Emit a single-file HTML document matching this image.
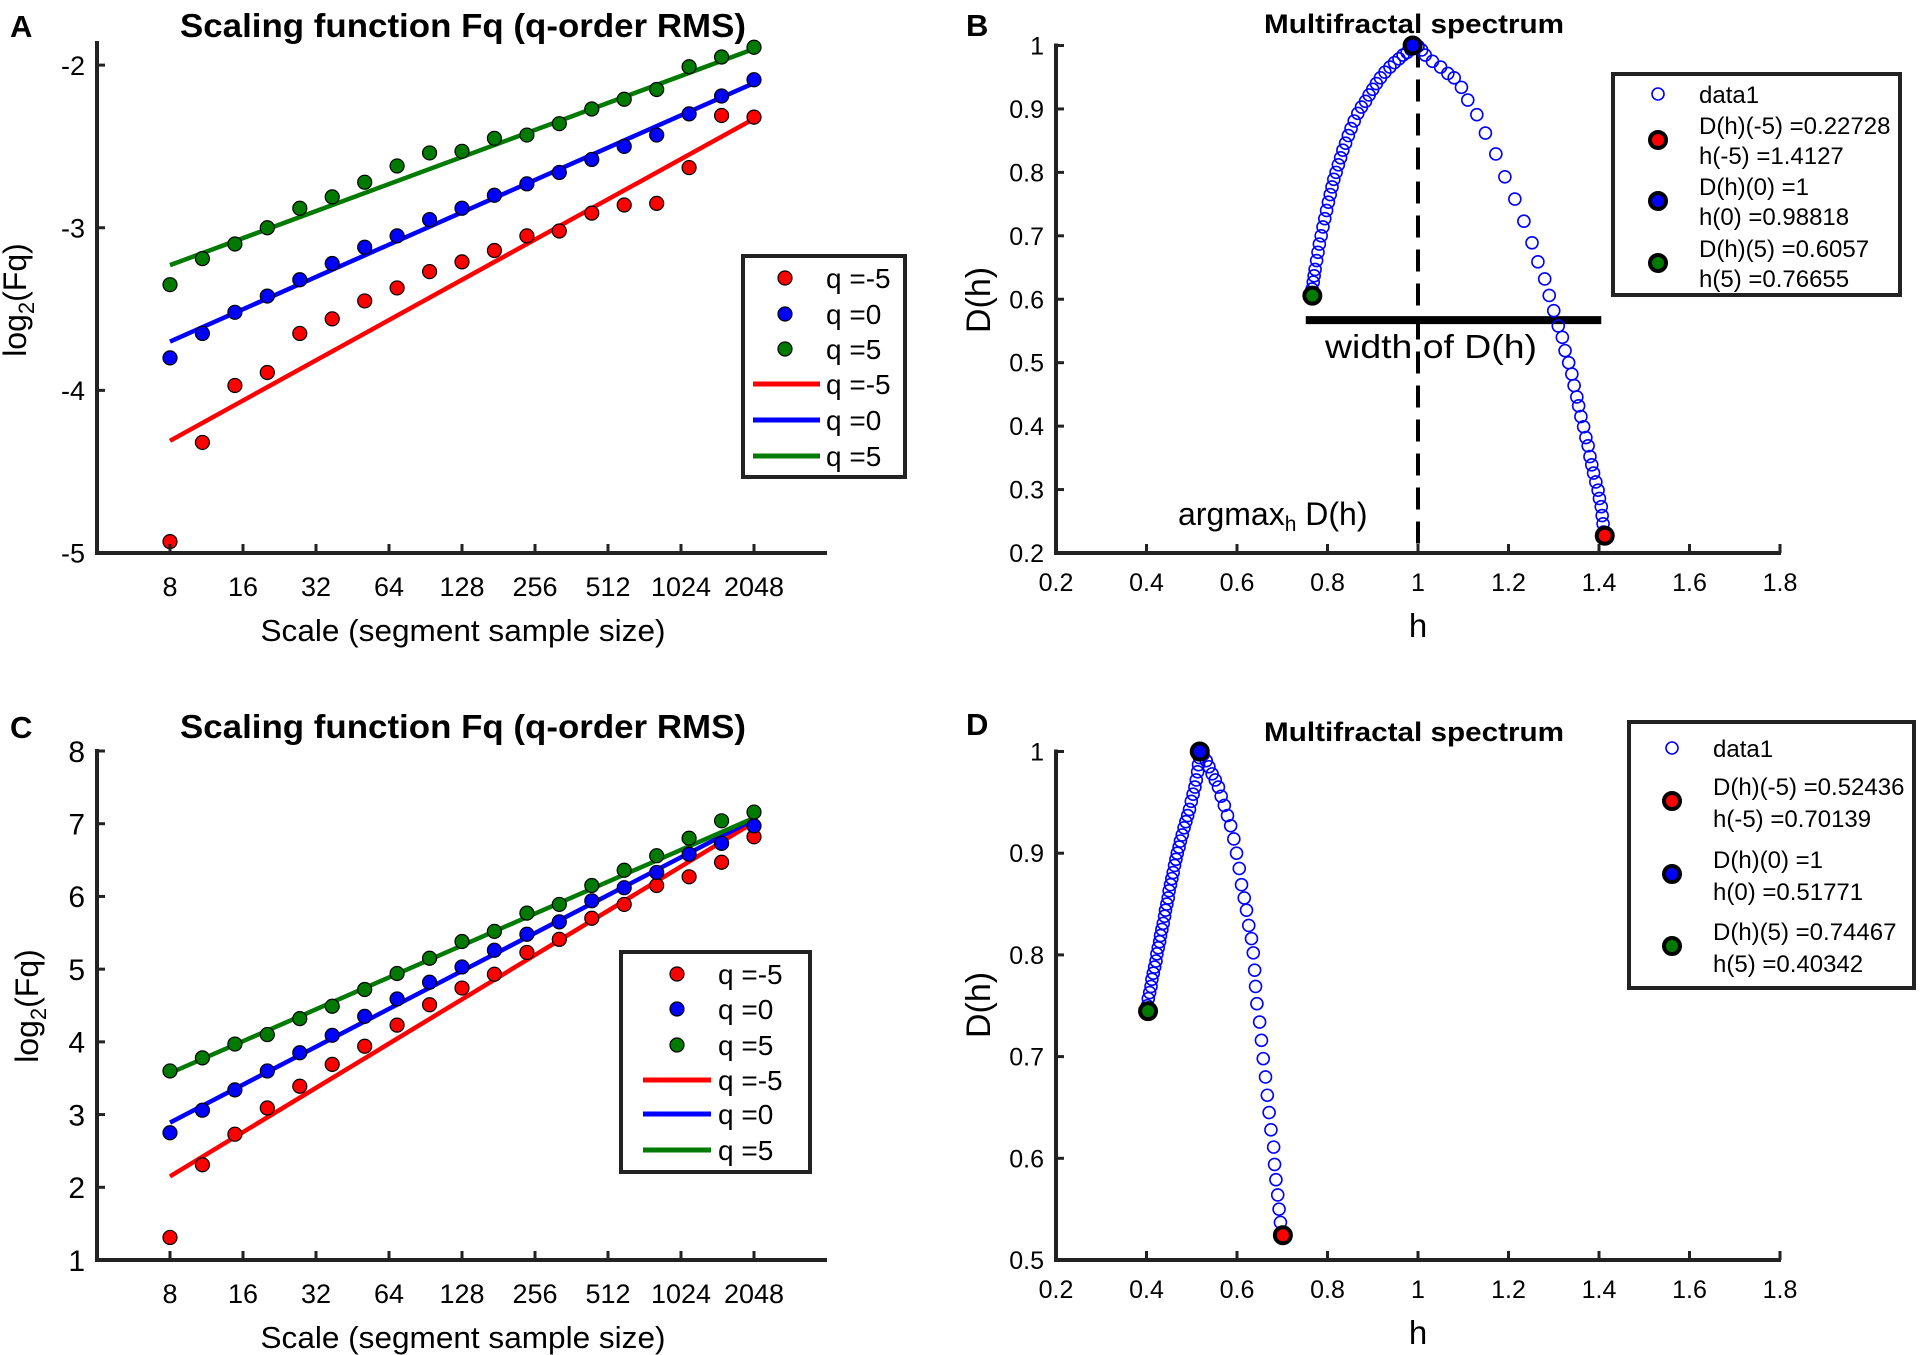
<!DOCTYPE html>
<html><head><meta charset="utf-8"><title>MFDFA figure</title>
<style>
html,body{margin:0;padding:0;background:#fff;}
svg{display:block;font-family:"Liberation Sans",Arial,sans-serif;}
</style></head>
<body>
<svg id="fig" width="1925" height="1355" viewBox="0 0 1925 1355" xmlns="http://www.w3.org/2000/svg"></svg>
<script>
// ---------- Data: panel A (scaling function) ----------
const scaleTickLabels = ["8","16","32","64","128","256","512","1024","2048"];
const scaleLog2 = [3,3.444,3.889,4.333,4.778,5.222,5.667,6.111,6.556,7,7.444,7.889,8.333,8.778,9.222,9.667,10.111,10.556,11];
const aRed   = [-4.93,-4.32,-3.97,-3.89,-3.65,-3.56,-3.45,-3.37,-3.27,-3.21,-3.14,-3.05,-3.02,-2.91,-2.86,-2.85,-2.63,-2.31,-2.32];
const aBlue  = [-3.80,-3.65,-3.52,-3.42,-3.32,-3.22,-3.12,-3.05,-2.95,-2.88,-2.80,-2.73,-2.66,-2.58,-2.50,-2.43,-2.30,-2.19,-2.09];
const aGreen = [-3.35,-3.19,-3.10,-3.00,-2.88,-2.81,-2.72,-2.62,-2.54,-2.53,-2.45,-2.43,-2.36,-2.27,-2.21,-2.15,-2.01,-1.95,-1.89];
const aFitStart = [-4.31,-3.70,-3.23];
const aFitEnd   = [-2.33,-2.11,-1.90];
const aYTicks = [-5,-4,-3,-2];
// ---------- Data: panel C ----------
const cRed   = [1.31,2.31,2.73,3.09,3.39,3.69,3.94,4.23,4.51,4.74,4.93,5.23,5.41,5.70,5.89,6.15,6.27,6.47,6.82];
const cBlue  = [2.75,3.06,3.34,3.60,3.85,4.09,4.35,4.59,4.82,5.03,5.26,5.48,5.65,5.94,6.12,6.33,6.58,6.73,6.97];
const cGreen = [3.60,3.78,3.97,4.10,4.32,4.49,4.72,4.94,5.15,5.38,5.52,5.77,5.89,6.15,6.36,6.56,6.80,7.04,7.16];
const cFitStart = [2.15,2.89,3.57];
const cFitEnd   = [7.02,7.06,7.08];
const cYTicks = [1,2,3,4,5,6,7,8];
const qLabels = ["q =-5","q =0","q =5"];
// ---------- Data: panel B (spectrum) ----------
const bH = [0.7645,0.766,0.7685,0.7705,0.7726,0.776,0.779,0.782,0.786,0.790,0.794,0.798,0.802,0.806,0.810,0.814,0.819,0.824,0.829,0.834,0.840,0.846,0.852,0.859,0.867,0.875,0.884,0.892,0.900,0.908,0.917,0.927,0.938,0.948,0.958,0.967,0.976,0.984,0.992,1.000,1.008,1.016,1.032,1.050,1.066,1.080,1.096,1.110,1.130,1.149,1.172,1.192,1.214,1.234,1.252,1.265,1.280,1.290,1.300,1.310,1.319,1.325,1.333,1.340,1.345,1.351,1.355,1.360,1.366,1.371,1.376,1.380,1.384,1.388,1.393,1.398,1.401,1.405,1.407,1.409,1.410];
const bD = [0.604,0.616,0.627,0.637,0.647,0.661,0.674,0.687,0.700,0.714,0.727,0.740,0.753,0.765,0.777,0.789,0.800,0.812,0.823,0.835,0.846,0.858,0.869,0.881,0.893,0.903,0.912,0.922,0.931,0.940,0.949,0.958,0.966,0.973,0.979,0.985,0.989,0.994,0.997,0.999,0.993,0.985,0.975,0.966,0.956,0.949,0.934,0.914,0.891,0.862,0.829,0.793,0.758,0.723,0.689,0.659,0.632,0.606,0.582,0.558,0.540,0.519,0.500,0.482,0.464,0.446,0.432,0.415,0.399,0.382,0.369,0.352,0.339,0.326,0.312,0.299,0.286,0.273,0.259,0.246,0.233];
const bKeyH = [1.4127,0.98818,0.76655];
const bKeyD = [0.22728,1,0.6057];
const bLegend = [["D(h)(-5) =0.22728","h(-5) =1.4127"],["D(h)(0) =1","h(0) =0.98818"],["D(h)(5) =0.6057","h(5) =0.76655"]];
const bWidthBar = [0.752,1.405,0.567];
const bYTicks = [0.2,0.3,0.4,0.5,0.6,0.7,0.8,0.9,1];
// ---------- Data: panel D ----------
const dH = [0.4003,0.402,0.404,0.407,0.410,0.412,0.415,0.418,0.421,0.423,0.426,0.429,0.431,0.434,0.437,0.440,0.442,0.445,0.448,0.450,0.453,0.456,0.459,0.462,0.465,0.468,0.472,0.475,0.479,0.483,0.487,0.491,0.495,0.499,0.503,0.507,0.510,0.513,0.515,0.517,0.525,0.532,0.538,0.545,0.552,0.559,0.565,0.572,0.579,0.586,0.593,0.599,0.605,0.610,0.616,0.621,0.626,0.632,0.636,0.639,0.641,0.644,0.650,0.654,0.658,0.663,0.667,0.671,0.675,0.681,0.683,0.686,0.690,0.693,0.696,0.698];
const dD = [0.7436,0.750,0.757,0.763,0.769,0.776,0.782,0.788,0.794,0.801,0.807,0.813,0.819,0.825,0.831,0.838,0.844,0.850,0.856,0.863,0.869,0.875,0.881,0.888,0.894,0.900,0.906,0.912,0.918,0.925,0.931,0.937,0.943,0.951,0.958,0.965,0.972,0.980,0.987,0.994,0.997,0.991,0.985,0.978,0.972,0.965,0.956,0.947,0.937,0.927,0.914,0.900,0.885,0.869,0.856,0.844,0.829,0.816,0.802,0.785,0.769,0.752,0.734,0.716,0.698,0.680,0.662,0.645,0.628,0.611,0.594,0.579,0.564,0.550,0.537,0.527];
const dKeyH = [0.70139,0.51771,0.40342];
const dKeyD = [0.52436,1,0.74467];
const dLegend = [["D(h)(-5) =0.52436","h(-5) =0.70139"],["D(h)(0) =1","h(0) =0.51771"],["D(h)(5) =0.74467","h(5) =0.40342"]];
const dYTicks = [0.5,0.6,0.7,0.8,0.9,1];
const hTicks = [0.2,0.4,0.6,0.8,1,1.2,1.4,1.6,1.8];
const colors = ["#ff0000","#0000ff","#007a00"];

const NS = "http://www.w3.org/2000/svg";
const svg = document.getElementById('fig');
function mk(tag, attrs, parent){
  const e = document.createElementNS(NS, tag);
  for (const k in attrs) e.setAttribute(k, attrs[k]);
  (parent||svg).appendChild(e);
  return e;
}
function txt(s, attrs, parent){ const e = mk('text', attrs, parent); e.textContent = s; return e; }
function lin(d0,d1,p0,p1){ return v => p0 + (v-d0)/(d1-d0)*(p1-p0); }

// ---------- Scaling panels ----------
function scalingPanel(o){
  const g = mk('g', {});
  
  
  const X = lin(2,12,o.x0,o.x1), Y = lin(o.ymin,o.ymax,o.y0,o.yTop);
  const pl = txt(o.letter, {x:o.letterX, y:o.titleY, 'font-size':31, 'font-weight':'bold'}, g);
  
  
  const t = txt("Scaling function Fq (q-order RMS)", {x:463, y:o.titleY, 'font-size':33, 'font-weight':'bold', 'text-anchor':'middle', textLength:566, lengthAdjust:'spacingAndGlyphs'}, g);
  
  
  for (let s=0;s<3;s++){
    const l = mk('line', {x1:X(scaleLog2[0]), y1:Y(o.fitStart[s]), x2:X(scaleLog2[scaleLog2.length-1]), y2:Y(o.fitEnd[s]), stroke:colors[s], 'stroke-width':4.5}, g);
    
    
  }
  const series=[o.red,o.blue,o.green];
  for (let s=0;s<3;s++){
    for (let i=0;i<scaleLog2.length;i++){
      const c = mk('circle', {cx:X(scaleLog2[i]), cy:Y(series[s][i]), r:7, fill:colors[s], stroke:'#000', 'stroke-width':1.2}, g);
      
      
    }
  }
  const ya = mk('line', {x1:o.x0, y1:o.y0+2, x2:o.x0, y2:o.yTop-2, stroke:'#222', 'stroke-width':4}, g);
  
  
  const xa = mk('line', {x1:o.x0-2, y1:o.y0, x2:o.x1, y2:o.y0, stroke:'#222', 'stroke-width':4}, g);
  
  
  for (let i=0;i<scaleTickLabels.length;i++){
    const xv = X(3+i);
    mk('line', {x1:xv, y1:o.y0, x2:xv, y2:o.y0-9, stroke:'#222', 'stroke-width':3}, g);
    const tl = txt(scaleTickLabels[i], {x:xv, y:o.y0+43, 'font-size':27, 'text-anchor':'middle'}, g);
    
    
  }
  for (const v of o.yTicks){
    const yv = Y(v);
    mk('line', {x1:o.x0, y1:yv, x2:o.x0+8, y2:yv, stroke:'#222', 'stroke-width':3}, g);
    const tl = txt(String(v), {x:o.x0-12, y:yv+o.yFont*0.36, 'font-size':o.yFont, 'text-anchor':'end'}, g);
    
    
  }
  const xl = txt("Scale (segment sample size)", {x:463, y:o.y0+88, 'font-size':31, 'text-anchor':'middle', textLength:405, lengthAdjust:'spacingAndGlyphs'}, g);
  
  
  const yl = mk('text', {transform:`translate(${o.ylabX},${o.ylabY}) rotate(-90)`, 'font-size':o.ylabFont, 'text-anchor':'middle'}, g);
  yl.innerHTML = 'log<tspan font-size="'+Math.round(o.ylabFont*0.7)+'" dy="8">2</tspan><tspan dy="-8">(Fq)</tspan>';
  
  
  const L = o.leg;
  const lb = mk('rect', {x:L.x, y:L.y, width:L.w, height:L.h, fill:'#fff', stroke:'#222', 'stroke-width':4}, g);
  
  
  for (let k=0;k<6;k++){
    const ry = L.rows[k], s = k%3;
    if (k<3){
      mk('circle', {cx:L.mx, cy:ry, r:7, fill:colors[s], stroke:'#000', 'stroke-width':1.2}, g);
    } else {
      mk('line', {x1:L.lx0, y1:ry, x2:L.lx1, y2:ry, stroke:colors[s], 'stroke-width':5}, g);
    }
    const le = txt(qLabels[s], {x:L.tx, y:ry+10, 'font-size':28}, g);
    
    
  }
}

scalingPanel({name:'panel-a', letter:'A', letterX:10, titleY:37, x0:97, x1:827, y0:553, yTop:43, ymin:-5, ymax:-1.864,
  red:aRed, blue:aBlue, green:aGreen, fitStart:aFitStart, fitEnd:aFitEnd, yTicks:aYTicks, yFont:27,
  ylabX:26, ylabY:300, ylabFont:32,
  leg:{x:743, y:256, w:162, h:221, rows:[278,314,349,384,420,456], mx:785, lx0:753, lx1:820, tx:826}});
scalingPanel({name:'panel-c', letter:'C', letterX:10, titleY:738, x0:97, x1:827, y0:1260, yTop:751, ymin:1, ymax:8,
  red:cRed, blue:cBlue, green:cGreen, fitStart:cFitStart, fitEnd:cFitEnd, yTicks:cYTicks, yFont:30,
  ylabX:38, ylabY:1006, ylabFont:32,
  leg:{x:621, y:952, w:189, h:220, rows:[974,1009,1045,1080,1114,1150], mx:677, lx0:643, lx1:711, tx:718}});

// ---------- Spectrum panels ----------
function spectrumPanel(o){
  const g = mk('g', {});
  
  
  const X = lin(0.2,1.8,1056,1780), Y = lin(o.ymin,1,o.y0,o.yTop);
  const pl = txt(o.letter, {x:966, y:o.letterY, 'font-size':31, 'font-weight':'bold'}, g);
  
  
  const t = txt("Multifractal spectrum", {x:1414, y:o.titleY, 'font-size':27, 'font-weight':'bold', 'text-anchor':'middle', textLength:300, lengthAdjust:'spacingAndGlyphs'}, g);
  
  
  if (o.annot){
    const dl = mk('line', {x1:X(1), y1:Y(1), x2:X(1), y2:o.y0, stroke:'#000', 'stroke-width':4, 'stroke-dasharray':'22 12'}, g);
    
    
    const wb = mk('line', {x1:X(bWidthBar[0]), y1:Y(bWidthBar[2]), x2:X(bWidthBar[1]), y2:Y(bWidthBar[2]), stroke:'#000', 'stroke-width':8}, g);
    
    
  }
  for (let i=0;i<o.h.length;i++){
    const c = mk('circle', {cx:X(o.h[i]), cy:Y(o.d[i]), r:6, fill:'none', stroke:'#0000ff', 'stroke-width':1.6}, g);
    
    
  }
  for (let s=0;s<3;s++){
    const c = mk('circle', {cx:X(o.kh[s]), cy:Y(o.kd[s]), r:8, fill:colors[s], stroke:'#000', 'stroke-width':4}, g);
    
    
  }
  if (o.annot){
    const w1 = txt("width of D(h)", {x:1325, y:358, 'font-size':33, textLength:212, lengthAdjust:'spacingAndGlyphs'}, g);
    
    
    const w2 = mk('text', {x:1178, y:525, 'font-size':32}, g);
    w2.innerHTML = 'argmax<tspan font-size="21" dy="6">h</tspan><tspan dy="-6"> D(h)</tspan>';
    
    
  }
  const ya = mk('line', {x1:1056, y1:o.y0+2, x2:1056, y2:o.yTop-2, stroke:'#222', 'stroke-width':4}, g);
  
  
  const xa = mk('line', {x1:1054, y1:o.y0, x2:1781, y2:o.y0, stroke:'#222', 'stroke-width':4}, g);
  
  
  for (const v of hTicks){
    const xv = X(v);
    mk('line', {x1:xv, y1:o.y0, x2:xv, y2:o.y0-9, stroke:'#222', 'stroke-width':3}, g);
    const tl = txt(String(v), {x:xv, y:o.y0+38, 'font-size':25, 'text-anchor':'middle'}, g);
    
    
  }
  for (const v of o.yTicks){
    const yv = Y(v);
    mk('line', {x1:1056, y1:yv, x2:1064, y2:yv, stroke:'#222', 'stroke-width':3}, g);
    const tl = txt(String(v), {x:1044, y:yv+9, 'font-size':25, 'text-anchor':'end'}, g);
    
    
  }
  const xl = txt("h", {x:1418, y:o.y0+84, 'font-size':33, 'text-anchor':'middle'}, g);
  
  
  const yl = txt("D(h)", {transform:`translate(${o.ylabX},${o.ylabY}) rotate(-90)`, 'font-size':34, 'text-anchor':'middle'}, g);
  
  
  const L = o.leg;
  const lb = mk('rect', {x:L.x, y:L.y, width:L.w, height:L.h, fill:'#fff', stroke:'#222', 'stroke-width':4}, g);
  
  
  mk('circle', {cx:L.mx, cy:L.dataY, r:6, fill:'none', stroke:'#0000ff', 'stroke-width':1.6}, g);
  const d1 = txt("data1", {x:L.tx, y:L.dataY+9, 'font-size':24}, g);
  
  
  for (let s=0;s<3;s++){
    mk('circle', {cx:L.mx, cy:L.markY[s], r:8, fill:colors[s], stroke:'#000', 'stroke-width':4}, g);
    const a = txt(o.legText[s][0], {x:L.tx, y:L.markY[s]-6, 'font-size':24}, g);
    
    
    const b = txt(o.legText[s][1], {x:L.tx, y:L.markY[s]+L.gap, 'font-size':24}, g);
    
    
  }
}

spectrumPanel({name:'panel-b', letter:'B', letterY:36, titleY:33, y0:553, yTop:45.5, ymin:0.2, yTicks:bYTicks,
  h:bH, d:bD, kh:bKeyH, kd:bKeyD, legText:bLegend, annot:true, ylabX:990, ylabY:300,
  leg:{x:1613, y:74, w:287, h:221, mx:1658, tx:1699, dataY:94, markY:[140,201,263], gap:24}});
spectrumPanel({name:'panel-d', letter:'D', letterY:735, titleY:741, y0:1260, yTop:751.5, ymin:0.5, yTicks:dYTicks,
  h:dH, d:dD, kh:dKeyH, kd:dKeyD, legText:dLegend, annot:false, ylabX:990, ylabY:1005,
  leg:{x:1629, y:722, w:285, h:266, mx:1672, tx:1713, dataY:748, markY:[801,874,946], gap:26}});
</script>
</body></html>
